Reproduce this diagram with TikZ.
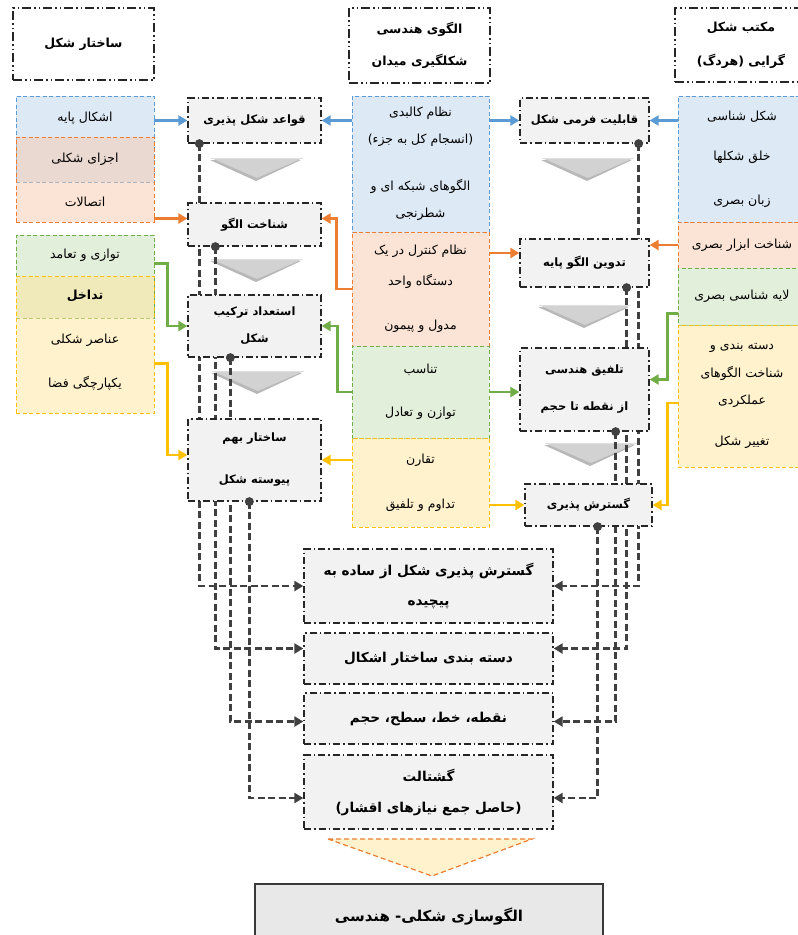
\documentclass[tikz,border=0pt]{standalone}
\usepackage{fontspec}
\newfontfamily\fa[Script=Arabic]{DejaVu Sans}
\TeXXeTstate=1
\newcommand{\fatext}[1]{\beginR#1\endR}
\usetikzlibrary{positioning,arrows.meta,backgrounds,calc}

\definecolor{blueln}{RGB}{91,155,213}
\definecolor{bluefl}{RGB}{221,234,246}
\definecolor{orgln}{RGB}{237,125,49}
\definecolor{orgfl}{RGB}{247,201,171}
\definecolor{grnln}{RGB}{112,173,71}
\definecolor{grnfl}{RGB}{226,239,218}
\definecolor{ylwln}{RGB}{255,192,0}
\definecolor{ylwfl}{RGB}{255,229,153}
\definecolor{chainfl}{RGB}{242,242,242}
\definecolor{linkcol}{RGB}{64,64,64}

\begin{document}
\begin{tikzpicture}[x=1pt,y=-1pt,
  hdr/.style={draw=black!85, line width=1.3pt, dash pattern=on 9pt off 3pt on 1.5pt off 3pt on 1.5pt off 3pt, fill=white, inner sep=0pt, align=center, font=\fa\bfseries\fontsize{12.5}{13}\selectfont},
  chainbox/.style={draw=black!85, line width=1.3pt, dash pattern=on 7pt off 3pt on 1.5pt off 3pt, fill=chainfl, inner sep=0pt, align=center, font=\fa\bfseries\fontsize{11.5}{12}\selectfont},
  resbox/.style={chainbox, minimum width=249pt, font=\fa\bfseries\fontsize{13.6}{15}\selectfont},
  area/.style={line width=0.9pt, dash pattern=on 4pt off 2.5pt, inner sep=0pt, align=center, font=\fa\fontsize{12.5}{12}\selectfont},
  bluearea/.style={area, draw=blueln, fill=bluefl},
  orgarea/.style={area, draw=orgln, fill=orgfl, fill opacity=.5, text opacity=1},
  grnarea/.style={area, draw=grnln, fill=grnfl},
  ylwarea/.style={area, draw=ylwln, fill=ylwfl, fill opacity=.5, text opacity=1},
  itemtxt/.style={font=\fa\fontsize{12.5}{12}\selectfont},
  feed/.style={line width=2.3pt, -{Triangle[length=9pt,width=10pt]}},
  link/.style={draw=linkcol, line width=2.4pt, dash pattern=on 7pt off 3.5pt, -{Triangle[length=9pt,width=10pt]}}]
\useasboundingbox (0,0) rectangle (798,935);

% headers
\node[hdr, minimum width=141pt, minimum height=72pt] (hL) at (83.5,44) {\fatext{ساختار شکل}};
\node[hdr, minimum width=141pt, minimum height=75pt] (hM) at (419.5,45.5) {\fatext{الگوی هندسی}\\[17pt]\fatext{شکلگیری میدان}};
\node[hdr, minimum width=132pt, minimum height=74pt] (hR) at (741,45) {\fatext{مکتب شکل}\\[19pt]\fatext{گرایی (هردگ)}};

% left column
\node[bluearea, minimum width=138pt, minimum height=86pt] (lb) at (85,139) {};
\node[orgarea, minimum width=138pt, minimum height=85pt] (lo) at (85,179.5) {};
\node[grnarea, minimum width=138pt, minimum height=83pt] (lg) at (85,276.5) {};
\node[ylwarea, minimum width=138pt, minimum height=137pt] (ly) at (85,344.5) {};
\node[itemtxt] (lb1) at (85,118) {\fatext{اشکال پایه}};
\node[itemtxt] (lbo) at (85,159) {\fatext{اجزای شکلی}};
\node[itemtxt] (lo1) at (85,202) {\fatext{اتصالات}};
\node[itemtxt] (lg1) at (85,255) {\fatext{توازی و تعامد}};
\node[itemtxt, font=\fa\bfseries\fontsize{12.5}{12}\selectfont] (lgy) at (85,296) {\fatext{تداخل}};
\node[itemtxt] (ly1) at (85,340) {\fatext{عناصر شکلی}};
\node[itemtxt] (ly2) at (85,383) {\fatext{یکپارچگی فضا}};

% middle column
\node[bluearea, minimum width=137pt, minimum height=136pt] (mb) at (420.5,164)
  {\fatext{نظام کالبدی}\\[13pt]\fatext{(انسجام کل به جزء)}\\[32pt]\fatext{الگوهای شبکه ای و}\\[14pt]\fatext{شطرنجی}};
\node[orgarea, minimum width=137pt, minimum height=114pt] (mo) at (420.5,289)
  {\fatext{نظام کنترل در یک}\\[15pt]\fatext{دستگاه واحد}\\[31pt]\fatext{مدول و پیمون}};
\node[grnarea, minimum width=137pt, minimum height=92pt] (mg) at (420.5,392)
  {\fatext{تناسب}\\[31pt]\fatext{توازن و تعادل}};
\node[ylwarea, minimum width=137pt, minimum height=89pt] (my) at (420.5,482.5)
  {\fatext{تقارن}\\[31pt]\fatext{تداوم و تلفیق}};

% right column
\node[bluearea, minimum width=128pt, minimum height=126pt] (rb) at (742,159)
  {\fatext{شکل شناسی}\\[28pt]\fatext{خلق شکلها}\\[30pt]\fatext{زبان بصری}};
\node[orgarea, minimum width=128pt, minimum height=46pt] (ro) at (742,245) {\fatext{شناخت ابزار بصری}};
\node[grnarea, minimum width=128pt, minimum height=57pt] (rg) at (742,296.5) {\fatext{لایه شناسی بصری}};
\node[ylwarea, minimum width=128pt, minimum height=142pt] (ry) at (742,396)
  {\fatext{دسته بندی و}\\[13pt]\fatext{شناخت الگوهای}\\[13pt]\fatext{عملکردی}\\[28pt]\fatext{تغییر شکل}};

% left chain
\node[chainbox, minimum width=133pt, minimum height=45pt] (c1) at (254.5,120.5) {\fatext{قواعد شکل پذیری}};
\node[chainbox, minimum width=133pt, minimum height=43pt] (c2) at (254.5,224.5) {\fatext{شناخت الگو}};
\node[chainbox, minimum width=133pt, minimum height=62pt] (c3) at (254.5,326) {\fatext{استعداد ترکیب}\\[15pt]\fatext{شکل}};
\node[chainbox, minimum width=133pt, minimum height=82pt] (c4) at (254.5,460) {\fatext{ساختار بهم}\\[30pt]\fatext{پیوسته شکل}};

% right chain
\node[chainbox, minimum width=129pt, minimum height=45pt] (d1) at (584.5,120.5) {\fatext{قابلیت فرمی شکل}};
\node[chainbox, minimum width=129pt, minimum height=48pt] (d2) at (584.5,263) {\fatext{تدوین الگو پایه}};
\node[chainbox, minimum width=129pt, minimum height=83pt] (d3) at (584.5,389.5) {\fatext{تلفیق هندسی}\\[25pt]\fatext{از نقطه تا حجم}};
\node[chainbox, minimum width=127pt, minimum height=42pt] (d4) at (588.5,505) {\fatext{گسترش پذیری}};

% results
\node[resbox, minimum height=74pt] (b1) at (428.5,586) {\fatext{گسترش پذیری شکل از ساده به}\\[15pt]\fatext{پیچیده}};
\node[resbox, minimum height=51pt] (b2) at (428.5,658.5) {\fatext{دسته بندی ساختار اشکال}};
\node[resbox, minimum height=51pt] (b3) at (428.5,718.5) {\fatext{نقطه، خط، سطح، حجم}};
\node[resbox, minimum height=74pt] (b4) at (428.5,792) {\fatext{گشتالت}\\[16pt]\fatext{(حاصل جمع نیازهای اقشار)}};

\draw[orgln, line width=1.2pt, dash pattern=on 5pt off 3pt, fill=ylwfl, fill opacity=.5] (328,839) -- (532,839) -- (432,876) -- cycle;
\node[draw=gray!45!black, line width=1.2pt, fill=gray!18, minimum width=348pt, minimum height=64pt, font=\fa\bfseries\fontsize{15}{16}\selectfont] (fin) at (429,916)
  {\fatext{هندسی} -\fatext{الگوسازی شکلی}};

% inputs
\draw[feed, blueln] (lb.east |- c1.west) -- (c1.west);
\draw[feed, blueln] (mb.west |- c1.east) -- (c1.east);
\draw[feed, blueln] (mb.east |- d1.west) -- (d1.west);
\draw[feed, blueln] (rb.west |- d1.east) -- (d1.east);
\draw[feed, orgln] ($(c2.west)+(0,-6)$) coordinate (t1) (t1 -| lo.east) -- (t1);
\draw[feed, orgln] (mo.west) -- ++(-15,0) |- ($(c2.east)+(0,-6)$);
\draw[feed, orgln] ($(d2.west)+(0,-10)$) coordinate (t2) (t2 -| mo.east) -- (t2);
\draw[feed, orgln] (ro.west) -- (ro.west -| d2.east);
\draw[feed, grnln] ($(lg.east)+(0,-13)$) -- ++(13,0) |- (c3.west);
\draw[feed, grnln] (mg.west) -- ++(-14,0) |- (c3.east);
\draw[feed, grnln] (mg.east) -- (mg.east -| d3.west);
\draw[feed, grnln] ($(rg.west)+(0,17)$) -- ++(-10,0) |- ($(d3.east)+(0,-10)$);
\draw[feed, ylwln] ($(ly.east)+(0,19)$) -- ++(13,0) |- ($(c4.west)+(0,-5)$);
\draw[feed, ylwln] (my.west |- c4.east) -- (c4.east);
\draw[feed, ylwln] (my.east |- d4.west) -- (d4.west);
\draw[feed, ylwln] ($(ry.west)+(0,7)$) -- ++(-10,0) |- (d4.east);

% outputs
\begin{pgfonlayer}{background}
\foreach \cx/\cy in {257/158, 257/259, 258/371, 588/158, 585/305, 591/443} {
  \fill[gray!70, opacity=.8] (\cx-47,\cy+2) -- (\cx+44,\cy+2) -- (\cx-1,\cy+23) -- cycle;
  \fill[gray!35] (\cx-46,\cy) -- (\cx+46,\cy) -- (\cx,\cy+20) -- cycle;
  \draw[gray!25, line width=1pt] (\cx-46,\cy) -- (\cx+46,\cy);
}
\draw[link] ([xshift=12pt]c1.south west) |- (b1.west);
\draw[link] ([xshift=28pt]c2.south west) |- ($(b2.west)+(0,-10)$);
\draw[link] ([xshift=43pt]c3.south west) |- ($(b3.west)+(0,3)$);
\draw[link] ([xshift=62pt]c4.south west) |- ($(b4.west)+(0,6)$);
\draw[link] ([xshift=-11pt]d1.south east) |- (b1.east);
\draw[link] ([xshift=-23pt]d2.south east) |- ($(b2.east)+(0,-10)$);
\draw[link] ([xshift=-34pt]d3.south east) |- ($(b3.east)+(0,3)$);
\draw[link] ([xshift=-55pt]d4.south east) |- ($(b4.east)+(0,6)$);
\end{pgfonlayer}
\foreach \n/\s in {c1/12, c2/28, c3/43, c4/62}
  \fill[linkcol] ([xshift=\s pt]\n.south west) circle (4.5pt);
\foreach \n/\s in {d1/11, d2/23, d3/34, d4/55}
  \fill[linkcol] ([xshift=-\s pt]\n.south east) circle (4.5pt);
\end{tikzpicture}
\end{document}
